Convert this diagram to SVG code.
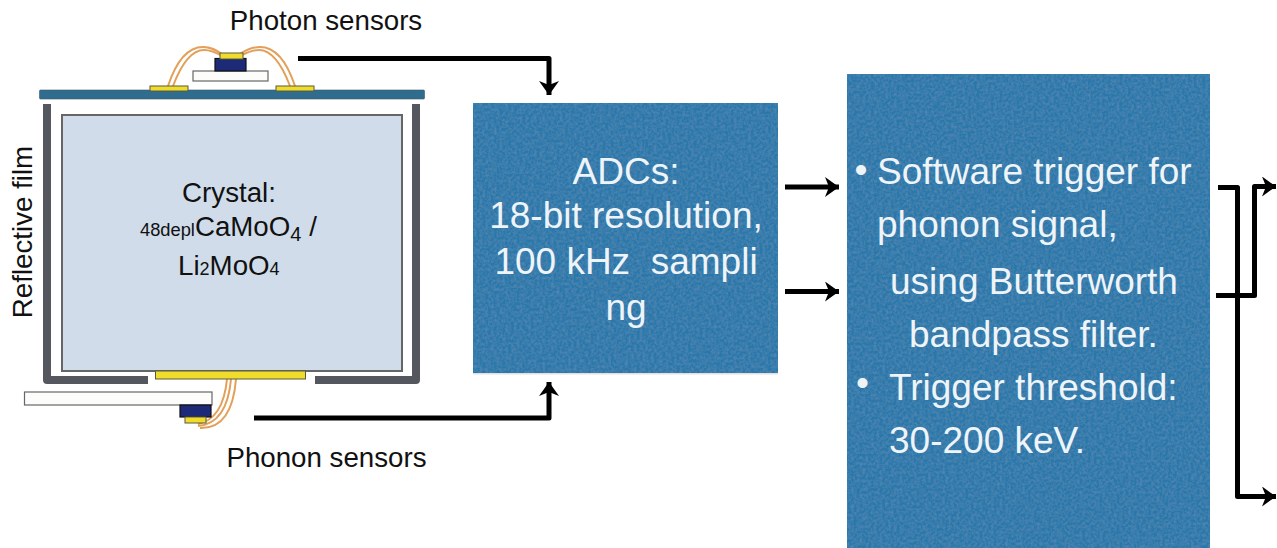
<svg xmlns="http://www.w3.org/2000/svg" width="1277" height="548" viewBox="0 0 1277 548">
<style>
text{font-family:"Liberation Sans",Arial,sans-serif}
.k{fill:#111;font-size:27.700px}
.w{fill:#eef4f8;font-size:37px}
.c{text-anchor:middle}
.box{fill:#2b78aa;filter:url(#tex)}
.shade{fill:#000;opacity:.12}
.wall{fill:#54585e}
.conn{fill:none;stroke:#000;stroke-width:5;stroke-linejoin:round}
.wire{fill:none;stroke:#e2a05a;stroke-width:2}
.pad{fill:#f0dc2c;stroke:#5a5a3a;stroke-width:1}
.sub{fill:#fcfcfa;stroke:#666;stroke-width:1.200}
.navy{fill:#1c2a78;stroke:#111;stroke-width:1.200}
</style>
<defs>
<filter id="tex" x="0" y="0" width="100%" height="100%">
<feTurbulence type="fractalNoise" baseFrequency="0.35" numOctaves="3" seed="4" result="n"/>
<feColorMatrix in="n" type="matrix" values="0 0 0 0 1  0 0 0 0 1  0 0 0 0 1  0.12 0 0 0 -0.04" result="m"/>
<feComposite in="m" in2="SourceAlpha" operator="in" result="c"/>
<feMerge><feMergeNode in="SourceGraphic"/><feMergeNode in="c"/></feMerge>
</filter>
<marker id="a" markerUnits="userSpaceOnUse" markerWidth="20" markerHeight="22" refX="16" refY="10" orient="auto">
<path d="M2 0L16 10L2 20L6 10Z" fill="#000"/>
</marker>
</defs>
<rect width="1277" height="548" fill="#fff"/>
<g id="detector">
<path class="wall" d="M43 104h8v272h97v8h-101q-4 0-4-4Z"/>
<path class="wall" d="M412 104h8v276q0 4-4 4h-101v-8h97Z"/>
<rect x="62" y="115" width="340" height="256" fill="#d0dce9" stroke="#666" stroke-width="2"/>
<path class="wire" d="M168 86C176 62 188 47 203 47C211 47 216 50 222 54M173 86C181 65 191 50 204 50C212 50 217 53 222 56"/>
<path class="wire" d="M295 86C287 62 275 47 260 47C252 47 246 50 240 54M290 86C282 65 272 50 259 50C251 50 246 53 240 56"/>
<rect x="39.500" y="90" width="385" height="9" rx="1" fill="#2f6c8e" stroke="#3a5a6a" stroke-width="0.600"/>
<rect class="pad" x="150" y="86" width="38" height="5"/>
<rect class="pad" x="276" y="86" width="38" height="5"/>
<rect class="sub" x="193" y="71" width="75" height="10"/>
<rect class="navy" x="215" y="58.500" width="31" height="12.500"/>
<rect class="pad" x="220" y="53" width="23" height="6"/>
<path class="wire" d="M227 379C225 400 218 420 198 424M231 379C229 402 222 424 198 426M236 379C234 404 226 429 200 428"/>
<rect class="pad" x="155.500" y="371" width="150" height="8"/>
<rect class="sub" x="24.500" y="392" width="187.500" height="13"/>
<rect class="navy" x="180" y="405" width="31" height="12"/>
<rect class="pad" x="185" y="417" width="21" height="6"/>
</g>
<g id="photon-label"><text class="k c" x="326" y="30">Photon sensors</text></g>
<g id="phonon-label"><text class="k c" x="326.500" y="467">Phonon sensors</text></g>
<g id="film-label"><text class="k c" transform="translate(32 232) rotate(-90)">Reflective film</text></g>
<g id="crystal-label">
<text class="k c" x="229" y="202">Crystal:</text>
<text class="k" x="140" y="236"><tspan font-size="18.300">48depl</tspan>CaMoO<tspan font-size="20" dy="5">4</tspan><tspan dy="-5"> /</tspan></text>
<text class="k" x="178" y="275">Li<tspan font-size="18">2</tspan>MoO<tspan font-size="18">4</tspan></text>
</g>
<g id="adc">
<rect class="shade" x="473" y="373" width="305" height="1.500"/>
<rect class="box" x="473" y="103" width="305" height="270"/>
<text class="w c" x="626" y="184">ADCs:</text>
<text class="w c" x="626" y="228">18-bit resolution,</text>
<text class="w c" x="626" y="274">100 kHz &#160;sampli</text>
<text class="w c" x="626" y="320">ng</text>
</g>
<g id="trigger">
<rect class="box" x="847" y="74" width="363" height="474"/>
<text class="w" x="854.500" y="182" font-size="18">•</text>
<text class="w" x="877" y="184">Software trigger for</text>
<text class="w" x="877" y="237">phonon signal,</text>
<text class="w" x="890" y="294">using Butterworth</text>
<text class="w" x="909" y="347">bandpass filter.</text>
<text class="w" x="856" y="395" font-size="18">•</text>
<text class="w" x="889" y="400">Trigger threshold:</text>
<text class="w" x="889" y="453">30-200 keV.</text>
</g>
<g id="connectors">
<path class="conn" d="M298 58.500H549V95" marker-end="url(#a)"/>
<path class="conn" d="M254 418H549V382" marker-end="url(#a)"/>
<path class="conn" d="M785 187H839" marker-end="url(#a)"/>
<path class="conn" d="M785 291.500H839" marker-end="url(#a)"/>
<path class="conn" d="M1218 187.500H1237.500V496.500H1276" marker-end="url(#a)"/>
<path class="conn" d="M1216 295.500H1254.500V186.500H1276" marker-end="url(#a)"/>
</g>
</svg>
